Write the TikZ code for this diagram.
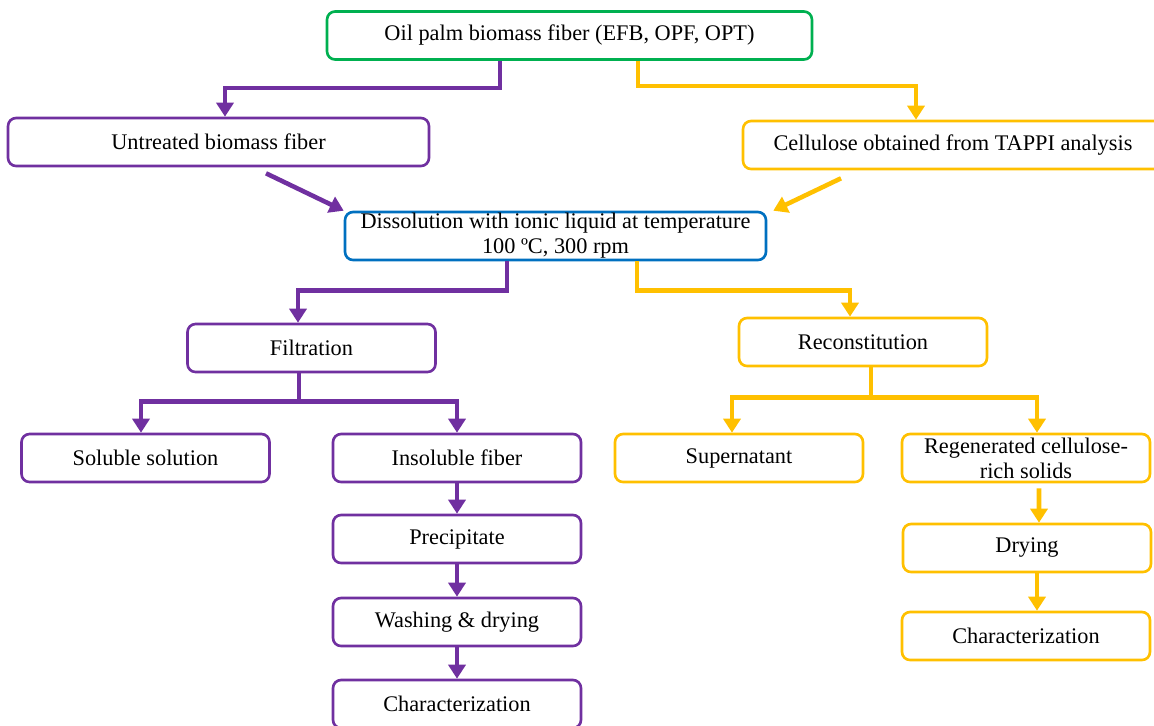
\documentclass[tikz,border=0pt]{standalone}
\usepackage{fontspec}
\setmainfont{Liberation Serif}
\usepackage{tikz}
\usetikzlibrary{calc, arrows.meta, positioning}
\tikzset{font=\fontsize{12.7}{14.2}\selectfont}
\definecolor{purple1}{RGB}{112,48,160}
\definecolor{yellow1}{RGB}{255,192,0}
\definecolor{green1}{RGB}{0,176,80}
\definecolor{blue1}{RGB}{0,112,192}

\begin{document}
\begin{tikzpicture}[x=0.02cm,y=-0.02cm,>={Triangle[length=0.28cm,width=0.34cm]},
                    line join=miter]
  \tikzstyle{box}=[draw,rounded corners=0.16cm,line width=1.5pt,fill=white,
                   text=black,minimum width=4.96cm,minimum height=0.96cm,
                   align=center,inner sep=0pt]
  \tikzstyle{flow}=[->,line width=2.6pt]

  \useasboundingbox (0,0) rectangle (1154,725);

  \node[box,draw=green1,minimum width=9.7cm]    (oil)   at (569.5, 35.5) {Oil palm biomass fiber (EFB, OPF, OPT)};
  \node[box,draw=purple1,minimum width=8.42cm]  (untr)  at (218.5, 142)  {Untreated biomass fiber};
  \node[box,draw=yellow1,minimum width=8.4cm]   (tappi) at (953, 145)    {Cellulose obtained from TAPPI analysis};
  \node[box,draw=blue1,minimum width=8.42cm]    (diss)  at (555.5, 236)  {Dissolution with ionic liquid at temperature\\100 ºC, 300 rpm};
  \node[box,draw=purple1]  (filt)   at (311.5, 348) {Filtration};
  \node[box,draw=yellow1]  (recon)  at (863, 342)   {Reconstitution};
  \node[box,draw=purple1]  (sol)    at (145.5, 458) {Soluble solution};
  \node[box,draw=purple1]  (insol)  at (457, 458)   {Insoluble fiber};
  \node[box,draw=yellow1]  (super)  at (739, 458)   {Supernatant};
  \node[box,draw=yellow1]  (regen)  at (1026, 458)  {Regenerated cellulose-\\rich solids};
  \node[box,draw=purple1]  (prec)   at (457, 539)   {Precipitate};
  \node[box,draw=purple1]  (wash)   at (457, 622)   {Washing \& drying};
  \node[box,draw=purple1]  (charl)  at (457, 704)   {Characterization};
  \node[box,draw=yellow1]  (dry)    at (1027, 548)  {Drying};
  \node[box,draw=yellow1]  (charr)  at (1026, 636)  {Characterization};

  % first split
  \draw[flow,purple1] ([xshift=-1.39cm]oil.south) -- ++(0,27) -| ([xshift=0.13cm]untr.north);
  \draw[flow,yellow1] ([xshift=1.37cm]oil.south) -- ++(0,25) -| ([xshift=-0.74cm]tappi.north);
  \draw[flow,purple1] ([shift={(0.95cm,-0.12cm)}]untr.south) -- (diss.north west);
  \draw[flow,yellow1] ([shift={(-2.24cm,-0.16cm)}]tappi.south) -- ([xshift=0.12cm]diss.north east);

  % second split
  \draw[flow,purple1] ([xshift=-0.97cm]diss.south) -- ++(0,29) -| ([xshift=-0.27cm]filt.north);
  \draw[flow,yellow1] ([xshift=1.63cm]diss.south) -- ++(0,29) -| ([xshift=-0.26cm]recon.north);

  % filtration branch
  \draw[flow,purple1] ([xshift=-0.25cm]filt.south) -- ++(0,28) -| ([xshift=-0.09cm]sol.north);
  \draw[flow,purple1] ([xshift=-0.25cm]filt.south) -- ++(0,28) -| (insol.north);
  \draw[flow,purple1] (insol) -- (prec);
  \draw[flow,purple1] (prec) -- (wash);
  \draw[flow,purple1] (wash) -- (charl);

  % reconstitution branch
  \draw[flow,yellow1] ([xshift=0.16cm]recon.south) -- ++(0,30) -| ([xshift=-0.14cm]super.north);
  \draw[flow,yellow1] ([xshift=0.16cm]recon.south) -- ++(0,30) -| ([xshift=0.22cm]regen.north);
  \draw[flow,yellow1] ([shift={(0.26cm,-0.1cm)}]regen.south) -- ([xshift=0.24cm]dry.north);
  \draw[flow,yellow1] ([xshift=0.2cm]dry.south) -- ([xshift=0.22cm]charr.north);
\end{tikzpicture}
\end{document}
